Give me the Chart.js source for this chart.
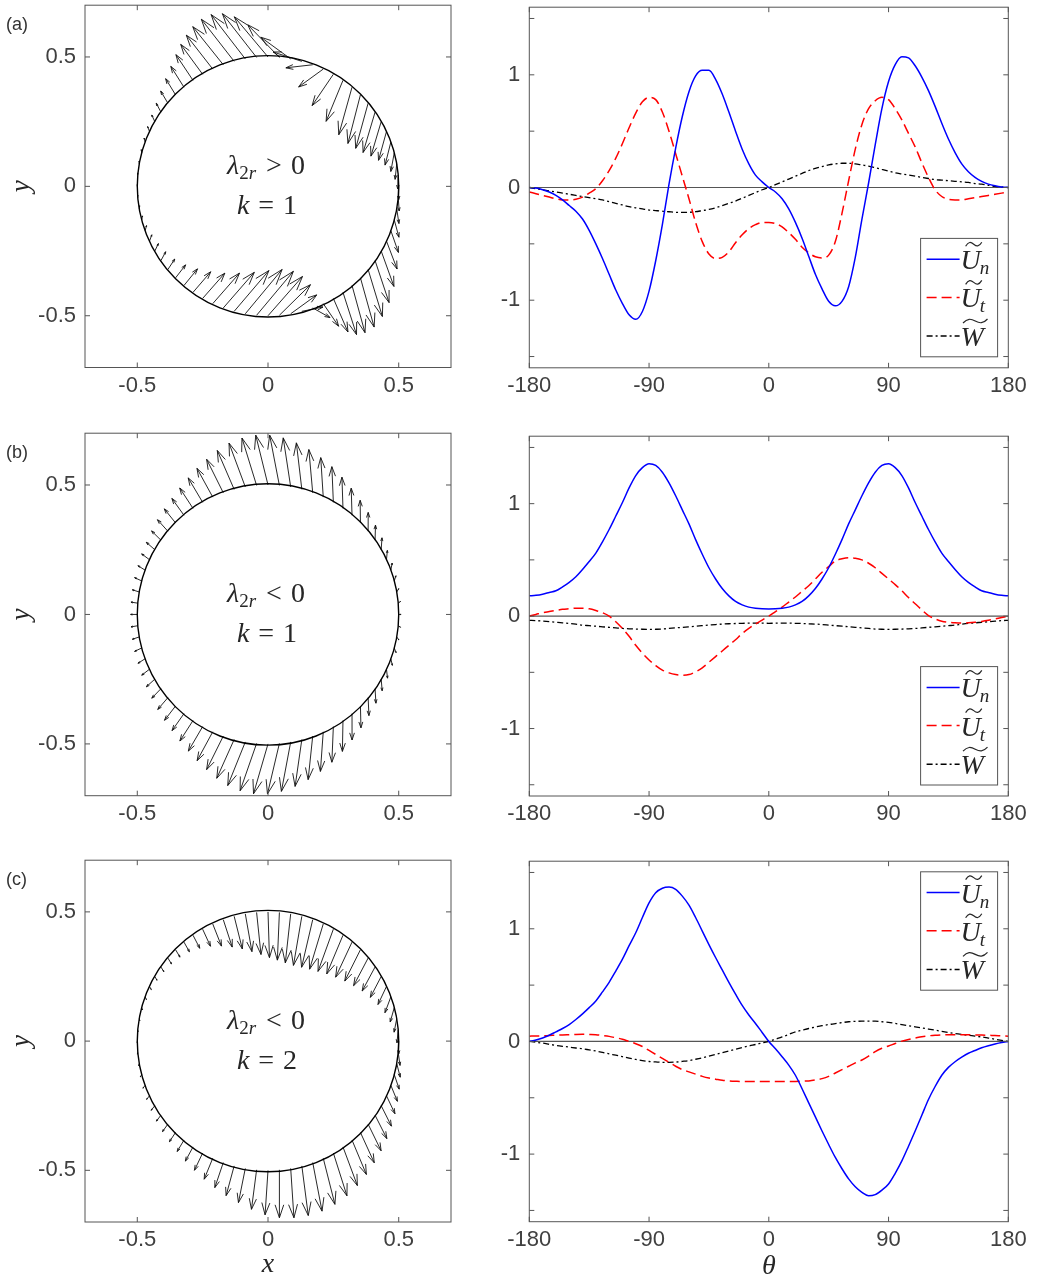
<!DOCTYPE html>
<html>
<head>
<meta charset="utf-8">
<script src="https://cdn.jsdelivr.net/npm/chart.js@4.4.1/dist/chart.umd.min.js"></script>
<style>
  body { margin: 0; background: #fff; width: 1038px; height: 1281px; position: relative; overflow: hidden; }
  canvas { position: absolute; }
</style>
</head>
<body>
<canvas id="qa"></canvas><canvas id="la"></canvas>
<canvas id="qb"></canvas><canvas id="lb"></canvas>
<canvas id="qc"></canvas><canvas id="lc"></canvas>
<script>
// angle samples (deg)
const theta = [-180,-175,-170,-165,-160,-155,-150,-145,-140,-135,-130,-125,-120,-115,-110,-105,-100,-95,-90,-85,-80,-75,-70,-65,-60,-55,-50,-45,-40,-35,-30,-25,-20,-15,-10,-5,
  0,5,10,15,20,25,30,35,40,45,50,55,60,65,70,75,80,85,90,95,100,105,110,115,120,125,130,135,140,145,150,155,160,165,170,175,180];

// (a) lambda_2r > 0, k = 1
const unA = [0,-0.005,-0.02,-0.04,-0.07,-0.11,-0.16,-0.21,-0.28,-0.38,-0.50,-0.63,-0.77,-0.91,-1.03,-1.13,-1.17,-1.10,-0.92,-0.65,-0.33,0.03,0.35,0.63,0.85,0.99,1.04,1.04,0.96,0.83,0.67,0.50,0.34,0.21,0.11,0.05,
  0,-0.04,-0.10,-0.19,-0.31,-0.45,-0.61,-0.77,-0.90,-1.01,-1.05,-1.01,-0.88,-0.62,-0.28,0.04,0.38,0.70,0.94,1.09,1.16,1.15,1.08,0.98,0.86,0.72,0.57,0.43,0.31,0.21,0.14,0.09,0.055,0.03,0.015,0.005,0];
const utA = [-0.04,-0.055,-0.07,-0.085,-0.10,-0.11,-0.11,-0.105,-0.085,-0.05,-0.01,0.06,0.15,0.26,0.39,0.53,0.66,0.76,0.80,0.78,0.67,0.50,0.30,0.10,-0.10,-0.31,-0.48,-0.59,-0.63,-0.62,-0.57,-0.49,-0.42,-0.365,-0.33,-0.31,
  -0.31,-0.32,-0.35,-0.40,-0.46,-0.53,-0.58,-0.615,-0.625,-0.60,-0.48,-0.23,0.06,0.34,0.56,0.70,0.77,0.80,0.78,0.70,0.60,0.48,0.36,0.22,0.09,-0.02,-0.08,-0.105,-0.11,-0.11,-0.10,-0.09,-0.08,-0.07,-0.06,-0.05,-0.04];
const wA = [0,-0.01,-0.02,-0.03,-0.04,-0.05,-0.06,-0.07,-0.08,-0.09,-0.10,-0.11,-0.125,-0.14,-0.155,-0.17,-0.18,-0.19,-0.20,-0.205,-0.21,-0.215,-0.22,-0.22,-0.22,-0.215,-0.205,-0.195,-0.18,-0.16,-0.14,-0.12,-0.095,-0.07,-0.045,-0.02,
  0,0.025,0.05,0.075,0.10,0.125,0.15,0.17,0.185,0.20,0.21,0.215,0.215,0.21,0.20,0.19,0.175,0.16,0.145,0.13,0.12,0.11,0.10,0.09,0.08,0.07,0.065,0.06,0.055,0.05,0.045,0.035,0.03,0.02,0.01,0.005,0];

// (b) lambda_2r < 0, k = 1
const unB = [0.18,0.185,0.195,0.21,0.225,0.26,0.30,0.35,0.415,0.485,0.56,0.66,0.77,0.89,1.01,1.14,1.25,1.32,1.355,1.34,1.28,1.185,1.07,0.945,0.82,0.68,0.55,0.43,0.33,0.245,0.18,0.13,0.10,0.08,0.07,0.065,
  0.064,0.065,0.07,0.08,0.10,0.13,0.18,0.245,0.33,0.43,0.55,0.68,0.82,0.945,1.07,1.185,1.28,1.34,1.355,1.32,1.25,1.14,1.01,0.89,0.77,0.66,0.56,0.485,0.415,0.35,0.30,0.26,0.225,0.21,0.195,0.185,0.18];
const utB = [0,0.015,0.03,0.04,0.05,0.06,0.065,0.07,0.07,0.065,0.05,0.03,0,-0.05,-0.11,-0.18,-0.26,-0.33,-0.39,-0.44,-0.48,-0.505,-0.52,-0.525,-0.52,-0.495,-0.46,-0.41,-0.36,-0.31,-0.26,-0.21,-0.155,-0.11,-0.07,-0.035,
  0,0.04,0.08,0.125,0.17,0.22,0.27,0.33,0.39,0.44,0.49,0.51,0.52,0.515,0.50,0.47,0.43,0.38,0.33,0.28,0.225,0.165,0.11,0.055,0.005,-0.025,-0.045,-0.055,-0.06,-0.062,-0.06,-0.055,-0.047,-0.037,-0.025,-0.012,0];
const wB = [-0.038,-0.04,-0.045,-0.05,-0.055,-0.06,-0.065,-0.072,-0.08,-0.085,-0.09,-0.095,-0.10,-0.105,-0.11,-0.113,-0.115,-0.117,-0.118,-0.117,-0.115,-0.11,-0.105,-0.10,-0.095,-0.09,-0.085,-0.08,-0.075,-0.071,-0.068,-0.066,-0.064,-0.063,-0.063,-0.063,
  -0.064,-0.063,-0.063,-0.063,-0.064,-0.066,-0.068,-0.071,-0.075,-0.08,-0.085,-0.09,-0.095,-0.10,-0.105,-0.11,-0.115,-0.117,-0.118,-0.117,-0.115,-0.113,-0.11,-0.105,-0.10,-0.095,-0.09,-0.085,-0.08,-0.072,-0.065,-0.06,-0.055,-0.05,-0.045,-0.04,-0.038];

// (c) lambda_2r < 0, k = 2
const unC = [0,0.012,0.03,0.055,0.085,0.115,0.15,0.195,0.245,0.30,0.36,0.44,0.525,0.625,0.73,0.85,0.965,1.10,1.23,1.32,1.36,1.37,1.35,1.29,1.21,1.10,0.98,0.86,0.745,0.635,0.525,0.42,0.32,0.235,0.16,0.08,
  0,-0.065,-0.135,-0.21,-0.30,-0.42,-0.545,-0.67,-0.795,-0.915,-1.03,-1.13,-1.22,-1.29,-1.34,-1.37,-1.36,-1.32,-1.265,-1.17,-1.06,-0.93,-0.795,-0.655,-0.515,-0.40,-0.30,-0.23,-0.18,-0.14,-0.105,-0.08,-0.056,-0.038,-0.023,-0.01,0];
const utC = [0.047,0.049,0.05,0.053,0.055,0.058,0.06,0.062,0.063,0.062,0.06,0.053,0.045,0.033,0.02,0,-0.02,-0.045,-0.08,-0.115,-0.15,-0.185,-0.22,-0.25,-0.27,-0.29,-0.31,-0.325,-0.335,-0.345,-0.35,-0.353,-0.355,-0.355,-0.355,-0.355,
  -0.355,-0.355,-0.355,-0.355,-0.355,-0.353,-0.35,-0.342,-0.33,-0.31,-0.28,-0.25,-0.22,-0.19,-0.165,-0.13,-0.09,-0.06,-0.04,-0.018,0.003,0.018,0.03,0.042,0.05,0.055,0.058,0.06,0.06,0.06,0.06,0.058,0.057,0.055,0.052,0.05,0.047];
const wC = [0,-0.007,-0.015,-0.025,-0.035,-0.043,-0.05,-0.058,-0.065,-0.075,-0.085,-0.097,-0.11,-0.122,-0.135,-0.148,-0.16,-0.17,-0.178,-0.182,-0.185,-0.185,-0.183,-0.177,-0.17,-0.158,-0.145,-0.13,-0.115,-0.10,-0.085,-0.07,-0.055,-0.04,-0.027,-0.013,
  0,0.02,0.04,0.062,0.085,0.10,0.115,0.128,0.14,0.15,0.158,0.167,0.175,0.178,0.18,0.18,0.18,0.175,0.17,0.16,0.15,0.14,0.13,0.12,0.11,0.10,0.09,0.08,0.07,0.062,0.055,0.047,0.04,0.03,0.02,0.01,0];

const panelNames = ['(a)', '(b)', '(c)'];
const signs = ['>', '<', '<'];
const kValues = ['1', '1', '2'];
const circleTicks = [-0.5, 0, 0.5];
const thetaTicks = [-180, -90, 0, 90, 180];
const valueTicks = [-1.5, -1, -0.5, 0, 0.5, 1, 1.5];
const circleRadius = 0.5;

const SANS = '"Liberation Sans", Arial, Helvetica, sans-serif';
const SERIF = '"Liberation Serif", "Times New Roman", serif';
const tickFont = { family: SANS, size: 22 };
const tickColor = '#404040';
const frameColor = '#555555';
const textColor = '#262626';
const tickLen = 5;

// page-pixel layout of each plot box
const rows = [
  { qa: { t: 1.3, b: 367.5 }, ln: { t: 3.6, b: 367.8 }, legendTop: false },
  { qa: { t: 429.7, b: 795.7 }, ln: { t: 432, b: 796 }, legendTop: false },
  { qa: { t: 856, b: 1222 }, ln: { t: 857.7, b: 1221.7 }, legendTop: true }
];
const qBox = { cl: 0, cw: 470, l: 85, r: 451 };
const lBox = { cl: 470, cw: 568, l: 529.3, r: 1008.3 };
const quiverScale = [0.165, 0.142, 0.14];

function placeCanvas(id, left, top, w, h) {
  const c = document.getElementById(id);
  c.width = w; c.height = h;
  c.style.left = left + 'px'; c.style.top = top + 'px';
  c.style.width = w + 'px'; c.style.height = h + 'px';
  return c;
}

function drawFrame(chart, xt, yt) {
  const { ctx, chartArea: a, scales: { x, y } } = chart;
  ctx.save();
  ctx.strokeStyle = frameColor;
  ctx.lineWidth = 1;
  ctx.setLineDash([]);
  ctx.strokeRect(a.left, a.top, a.right - a.left, a.bottom - a.top);
  ctx.beginPath();
  xt.forEach(v => {
    const px = x.getPixelForValue(v);
    ctx.moveTo(px, a.bottom); ctx.lineTo(px, a.bottom - tickLen);
    ctx.moveTo(px, a.top); ctx.lineTo(px, a.top + tickLen);
  });
  yt.forEach(v => {
    const py = y.getPixelForValue(v);
    ctx.moveTo(a.left, py); ctx.lineTo(a.left + tickLen, py);
    ctx.moveTo(a.right, py); ctx.lineTo(a.right - tickLen, py);
  });
  ctx.stroke();
  ctx.restore();
}

function drawMath(ctx, cx, baseline, parts) {
  let total = 0;
  parts.forEach(p => { ctx.font = p.f; p.w = ctx.measureText(p.t).width; total += p.w + (p.gap || 0); });
  let x = cx - total / 2;
  ctx.textAlign = 'left';
  ctx.textBaseline = 'alphabetic';
  parts.forEach(p => {
    ctx.font = p.f;
    ctx.fillText(p.t, x, baseline + (p.dy || 0));
    x += p.w + (p.gap || 0);
  });
}

function drawTilde(ctx, x, y, w, h) {
  ctx.beginPath();
  ctx.moveTo(x, y + h * 0.5);
  ctx.bezierCurveTo(x + w * 0.18, y - h * 0.7, x + w * 0.32, y - h * 0.6, x + w * 0.5, y);
  ctx.bezierCurveTo(x + w * 0.68, y + h * 0.6, x + w * 0.82, y + h * 0.7, x + w, y - h * 0.5);
  ctx.stroke();
}

function drawSymbol(ctx, x, yc, letter, sub) {
  ctx.fillStyle = textColor;
  ctx.strokeStyle = textColor;
  ctx.lineWidth = 1.2;
  ctx.setLineDash([]);
  ctx.textAlign = 'left';
  ctx.textBaseline = 'alphabetic';
  ctx.font = 'italic 28px ' + SERIF;
  const base = yc + 10;
  ctx.fillText(letter, x, base);
  const w = ctx.measureText(letter).width;
  const tw = letter === 'W' ? w * 1.05 : w * 0.8;
  drawTilde(ctx, x + (w - tw) / 2 + 3, base - 25, tw, 4);
  if (sub) {
    ctx.font = 'italic 19px ' + SERIF;
    ctx.fillText(sub, x + w - 1, base + 5);
  }
}

const legendItems = [
  { color: '#0000ff', dash: [], letter: 'U', sub: 'n' },
  { color: '#ff0000', dash: [10, 5], letter: 'U', sub: 't' },
  { color: '#000000', dash: [6, 3, 2, 3], letter: 'W', sub: '' }
];

function drawLegend(chart, atTop) {
  const { ctx, chartArea: a } = chart;
  const w = 77, h = 118.4;
  const l = a.right - 10.7 - w;
  const t = atTop ? a.top + 10.6 : a.bottom - 11 - h;
  ctx.save();
  ctx.fillStyle = '#fff';
  ctx.fillRect(l, t, w, h);
  ctx.strokeStyle = frameColor;
  ctx.lineWidth = 1;
  ctx.strokeRect(l, t, w, h);
  const rowY = [20.8, 59, 97.6];
  legendItems.forEach((it, i) => {
    const yc = t + rowY[i];
    ctx.beginPath();
    ctx.strokeStyle = it.color;
    ctx.lineWidth = 1.5;
    ctx.setLineDash(it.dash);
    ctx.moveTo(l + 6, yc); ctx.lineTo(l + 39, yc);
    ctx.stroke();
    drawSymbol(ctx, l + 40, yc, it.letter, it.sub);
  });
  ctx.restore();
}

function drawQuiver(chart, un, ut, s) {
  const { ctx, scales: { x, y } } = chart;
  const alpha = 0.27, beta = 0.33;
  ctx.save();
  ctx.strokeStyle = '#111';
  ctx.lineWidth = 0.9;
  ctx.setLineDash([]);
  ctx.beginPath();
  for (let i = 0; i < theta.length - 1; i++) {
    const th = theta[i] * Math.PI / 180;
    const c = Math.cos(th), sn = Math.sin(th);
    const bx = circleRadius * c, by = circleRadius * sn;
    const u = (un[i] * c - ut[i] * sn) * s;
    const v = (un[i] * sn + ut[i] * c) * s;
    const tx = bx + u, ty = by + v;
    ctx.moveTo(x.getPixelForValue(bx), y.getPixelForValue(by));
    ctx.lineTo(x.getPixelForValue(tx), y.getPixelForValue(ty));
    ctx.moveTo(x.getPixelForValue(tx - alpha * (u + beta * v)), y.getPixelForValue(ty - alpha * (v - beta * u)));
    ctx.lineTo(x.getPixelForValue(tx), y.getPixelForValue(ty));
    ctx.lineTo(x.getPixelForValue(tx - alpha * (u - beta * v)), y.getPixelForValue(ty - alpha * (v + beta * u)));
  }
  ctx.stroke();
  // circle
  const r = x.getPixelForValue(circleRadius) - x.getPixelForValue(0);
  ctx.beginPath();
  ctx.strokeStyle = '#000';
  ctx.lineWidth = 1.4;
  ctx.arc(x.getPixelForValue(0), y.getPixelForValue(0), r, 0, Math.PI * 2);
  ctx.stroke();
  ctx.restore();
}

function makeScales(xMin, xMax, yMin, yMax, xt, yt, yWidth, yLabel) {
  return {
    x: {
      type: 'linear', min: xMin, max: xMax,
      afterBuildTicks: sc => { sc.ticks = xt.map(v => ({ value: v })); },
      afterFit: sc => { sc.height = 40; },
      grid: { display: false, drawTicks: false }, border: { display: false },
      ticks: { font: tickFont, color: tickColor, padding: 5, maxRotation: 0, autoSkip: false, callback: v => String(v) }
    },
    y: {
      type: 'linear', min: yMin, max: yMax,
      afterBuildTicks: sc => { sc.ticks = yt.map(v => ({ value: v })); },
      afterFit: sc => { sc.width = yWidth; },
      grid: { display: false, drawTicks: false }, border: { display: false },
      ticks: { font: tickFont, color: tickColor, padding: 9, autoSkip: false, callback: yLabel }
    }
  };
}

const unAll = [unA, unB, unC];
const utAll = [utA, utB, utC];
const wAll = [wA, wB, wC];
const ids = ['a', 'b', 'c'];

rows.forEach((row, i) => {
  // ---- left: velocity arrows on the circle
  const qTop = Math.floor(row.qa.t) - 18;
  const qH = Math.ceil(row.qa.b - qTop) + 70;
  placeCanvas('q' + ids[i], qBox.cl, qTop, qBox.cw, qH);
  const basePts = theta.slice(0, -1).map(d => ({
    x: circleRadius * Math.cos(d * Math.PI / 180),
    y: circleRadius * Math.sin(d * Math.PI / 180)
  }));
  new Chart(document.getElementById('q' + ids[i]), {
    type: 'scatter',
    data: { datasets: [{ data: basePts, pointRadius: 0, showLine: false }] },
    options: {
      responsive: false, animation: false, devicePixelRatio: 1,
      layout: { padding: { top: row.qa.t - qTop, right: qBox.cw - qBox.r, bottom: qH - (row.qa.b - qTop) - 40, left: 0 } },
      plugins: { legend: { display: false }, tooltip: { enabled: false } },
      scales: makeScales(-0.7, 0.7, -0.7, 0.7, circleTicks, circleTicks, qBox.l - qBox.cl, v => String(v))
    },
    plugins: [{
      id: 'quiver' + i,
      afterDatasetsDraw(chart) { drawQuiver(chart, unAll[i], utAll[i], quiverScale[i]); },
      afterDraw(chart) {
        drawFrame(chart, circleTicks, circleTicks);
        const ctx = chart.ctx;
        const a = chart.chartArea;
        const yc = (a.top + a.bottom) / 2, xc = chart.scales.x.getPixelForValue(0) - 2;
        ctx.save();
        // panel tag
        ctx.font = '18px ' + SANS;
        ctx.textAlign = 'left'; ctx.textBaseline = 'middle';
        ctx.fillStyle = '#333';
        ctx.fillText(panelNames[i], 6, a.top + 20);
        // y label
        ctx.fillStyle = textColor;
        ctx.save();
        ctx.translate(22, yc);
        ctx.rotate(-Math.PI / 2);
        ctx.font = 'italic 27px ' + SERIF;
        ctx.textAlign = 'center'; ctx.textBaseline = 'middle';
        ctx.fillText('y', 0, 0);
        ctx.restore();
        // annotation
        const f = '28px ' + SERIF, fi = 'italic 28px ' + SERIF;
        drawMath(ctx, xc, yc - 12.6, [
          { t: 'λ', f: fi },
          { t: '2', f: '19px ' + SERIF, dy: 5 },
          { t: 'r', f: 'italic 19px ' + SERIF, dy: 5, gap: 10 },
          { t: signs[i], f: f, gap: 9 },
          { t: '0', f: f }
        ]);
        drawMath(ctx, xc + 1, yc + 27.4, [
          { t: 'k', f: fi, gap: 9 },
          { t: '=', f: f, gap: 9 },
          { t: kValues[i], f: f }
        ]);
        if (i === 2) {
          ctx.font = 'italic 28px ' + SERIF;
          ctx.textAlign = 'center'; ctx.textBaseline = 'middle';
          ctx.fillText('x', chart.scales.x.getPixelForValue(0), a.bottom + 43);
        }
        ctx.restore();
      }
    }]
  });

  // ---- right: profiles against theta
  const lTop = Math.floor(row.ln.t) - 18;
  const lH = Math.ceil(row.ln.b - lTop) + 70;
  placeCanvas('l' + ids[i], lBox.cl, lTop, lBox.cw, lH);
  const pts = arr => theta.map((d, j) => ({ x: d, y: arr[j] }));
  new Chart(document.getElementById('l' + ids[i]), {
    type: 'line',
    data: {
      datasets: [
        { label: 'Un', data: pts(unAll[i]), borderColor: '#0000ff', borderWidth: 1.5, pointRadius: 0, cubicInterpolationMode: 'monotone' },
        { label: 'Ut', data: pts(utAll[i]), borderColor: '#ff0000', borderWidth: 1.5, borderDash: [10, 5], pointRadius: 0, cubicInterpolationMode: 'monotone' },
        { label: 'W', data: pts(wAll[i]), borderColor: '#000000', borderWidth: 1.3, borderDash: [6, 3, 2, 3], pointRadius: 0, cubicInterpolationMode: 'monotone' },
        { label: 'zero', data: [{ x: thetaTicks[0], y: 0 }, { x: thetaTicks[4], y: 0 }], borderColor: '#555555', borderWidth: 1.2, pointRadius: 0 }
      ]
    },
    options: {
      responsive: false, animation: false, devicePixelRatio: 1,
      layout: { padding: { top: row.ln.t - lTop, right: lBox.cl + lBox.cw - lBox.r, bottom: lH - (row.ln.b - lTop) - 40, left: 0 } },
      plugins: { legend: { display: false }, tooltip: { enabled: false } },
      scales: makeScales(-180, 180, -1.6, 1.6, thetaTicks, valueTicks, lBox.l - lBox.cl, v => (Number.isInteger(v) ? String(v) : ''))
    },
    plugins: [{
      id: 'profile' + i,
      afterDraw(chart) {
        drawFrame(chart, thetaTicks, valueTicks);
        drawLegend(chart, row.legendTop);
        if (i === 2) {
          const ctx = chart.ctx;
          ctx.save();
          ctx.fillStyle = textColor;
          ctx.font = 'italic 28px ' + SERIF;
          ctx.textAlign = 'center'; ctx.textBaseline = 'middle';
          ctx.fillText('θ', chart.scales.x.getPixelForValue(0), chart.chartArea.bottom + 45);
          ctx.restore();
        }
      }
    }]
  });
});
</script>
</body>
</html>
